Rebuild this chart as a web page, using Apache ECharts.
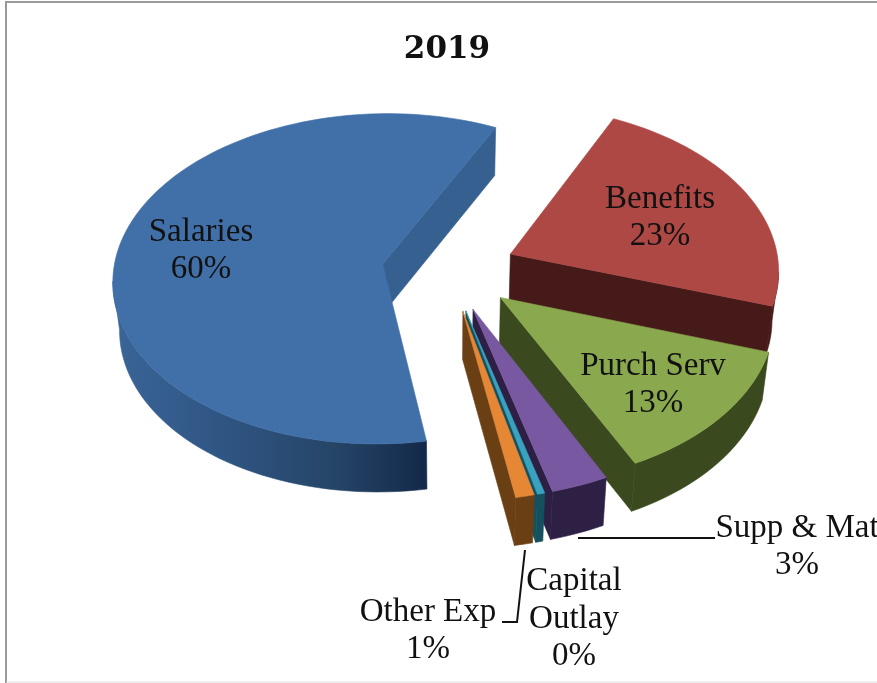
<!DOCTYPE html>
<html>
<head>
<meta charset="utf-8">
<style>html,body{margin:0;padding:0;background:#fff}#chart{width:877px;height:683px}</style>
<script src="https://cdn.jsdelivr.net/npm/echarts@6/dist/echarts.min.js"></script>
</head>
<body>
<div id="chart"></div>
<script>
// Budget shares for 2019, listed clockwise starting at the Benefits slice.
const categories = ['Benefits', 'Purch Serv', 'Supp & Mat', 'Capital Outlay', 'Other Exp', 'Salaries'];
const shares = [22.9, 12.7, 3.1, 0.4, 1, 59.9];
const topColors = ['#ad4845', '#8aa84d', '#7858a0', '#38a2bf', '#e58735', '#4170a8'];
const wallColors = ['#451a18', '#3a4a1e', '#2e2045', '#14505e', '#6b3f14', '#36608f'];

// Wrapped label text, label centres and leader lines.
const labelLines = { 'Capital Outlay': ['Capital', 'Outlay'] };
const labelCentres = {
  'Benefits': [660, 218], 'Purch Serv': [653, 385], 'Supp & Mat': [797, 547],
  'Capital Outlay': [574, 619], 'Other Exp': [428, 631], 'Salaries': [201, 251]
};
const leaders = {
  'Supp & Mat': [[578, 538], [715, 538]],
  'Other Exp': [[525, 550], [517, 622], [502, 622]]
};

// Projection of the tilted pie: plane coordinates run in units of the slice radius.
const view = {
  cx: 449, cy: 270, radius: 269, tilt: 0.613, perspective: 0.088,
  explode: 0.25, depth: 48, shrink: 0.02, firstAngle: 25.8
};
const FONT = '"Liberation Serif", serif';
const total = shares.reduce((a, b) => a + b, 0);

function project(u, v, z) {
  const s = 1 / (1 - view.perspective * v);
  const k = 1 - view.shrink * z;
  return [
    view.cx + view.radius * u * s * k,
    view.cy + view.radius * view.tilt * v * s + view.depth * z
  ];
}

function sliceOutline(from, to) {
  const mid = (from + to) / 2 * Math.PI / 180;
  const ox = Math.sin(mid) * view.explode;
  const oy = -Math.cos(mid) * view.explode;
  const pts = [[ox, oy]];
  const steps = Math.max(2, Math.ceil((to - from) / 2));
  for (let i = 0; i <= steps; i++) {
    const a = (from + (to - from) * i / steps) * Math.PI / 180;
    pts.push([ox + Math.sin(a), oy - Math.cos(a)]);
  }
  return pts;
}

function wallPolygon(topRun, lowRun, fill, stroke) {
  return {
    type: 'polygon',
    shape: { points: topRun.concat(lowRun.slice().reverse()) },
    style: { fill: fill, stroke: stroke, lineWidth: 0.6 }
  };
}

function renderItem(params, api) {
  const i = params.dataIndex;
  const name = categories[i];
  const value = api.value(0);
  let from = view.firstAngle;
  for (let j = 0; j < i; j++) from += shares[j] / total * 360;
  const to = from + value / total * 360;
  const outline = sliceOutline(from, to);
  const topPts = outline.map(p => project(p[0], p[1], 0));
  const lowPts = outline.map(p => project(p[0], p[1], 1));
  const children = [];
  const n = outline.length;
  const faces = (a, b) => topPts[b][0] < topPts[a][0];

  // Walls: on a clockwise outline only edges running right-to-left face the viewer.
  if (faces(n - 1, 0)) {
    children.push(wallPolygon([topPts[n - 1], topPts[0]], [lowPts[n - 1], lowPts[0]], wallColors[i], wallColors[i]));
  }
  if (faces(0, 1)) {
    children.push(wallPolygon([topPts[0], topPts[1]], [lowPts[0], lowPts[1]], wallColors[i], wallColors[i]));
  }
  const rimFill = name === 'Salaries'
    ? new echarts.graphic.LinearGradient(113, 0, 425, 0, [
        { offset: 0, color: '#3a6598' },
        { offset: 0.35, color: '#2f5583' },
        { offset: 0.7, color: '#264668' },
        { offset: 1, color: '#14294a' }
      ], true)
    : wallColors[i];
  let run = null;
  for (let e = 1; e <= n - 1; e++) {
    const open = e < n - 1 && faces(e, e + 1);
    if (open && run === null) run = e;
    if (!open && run !== null) {
      children.push(wallPolygon(topPts.slice(run, e + 1), lowPts.slice(run, e + 1), rimFill, rimFill));
      run = null;
    }
  }

  children.push({
    type: 'polygon',
    shape: { points: topPts },
    style: { fill: topColors[i], stroke: topColors[i], lineWidth: 0.6 }
  });

  if (leaders[name]) {
    children.push({
      type: 'polyline',
      z2: 20,
      shape: { points: leaders[name] },
      style: { fill: null, stroke: '#111', lineWidth: 2 }
    });
  }

  const lines = (labelLines[name] || [name]).concat(Math.round(value / total * 100) + '%');
  children.push({
    type: 'text',
    z2: 30,
    style: {
      x: labelCentres[name][0],
      y: labelCentres[name][1],
      text: lines.join('\n'),
      align: 'center',
      verticalAlign: 'middle',
      font: '33px ' + FONT,
      lineHeight: 37.5,
      fill: '#111'
    }
  });
  return { type: 'group', children: children };
}

// Slices are painted in data order: the larger back slices first, the narrow
// front slices last, so nearer faces cover the walls behind them. Salaries never
// overlaps the others, so it can come last and close the circle.
const chart = echarts.init(document.getElementById('chart'), null, { renderer: 'canvas' });
chart.setOption({
  animation: false,
  backgroundColor: '#fff',
  title: {
    text: '2019',
    left: 442,
    top: 29,
    textAlign: 'center',
    textStyle: { fontFamily: '"DejaVu Serif", serif', fontWeight: 'bold', fontSize: 31, color: '#111' }
  },
  graphic: [{
    type: 'polyline',
    silent: true,
    shape: { points: [[6, 683], [6, 2], [877, 2]] },
    style: { fill: null, stroke: '#9a9a9a', lineWidth: 2 }
  }, {
    type: 'line',
    silent: true,
    shape: { x1: 6, y1: 682, x2: 877, y2: 682 },
    style: { stroke: '#dddddd', lineWidth: 1 }
  }],
  series: [{
    type: 'custom',
    coordinateSystem: 'none',
    renderItem: renderItem,
    data: shares.map(v => [v]),
    encode: { value: 0 },
    silent: true
  }]
});
</script>
</body>
</html>
